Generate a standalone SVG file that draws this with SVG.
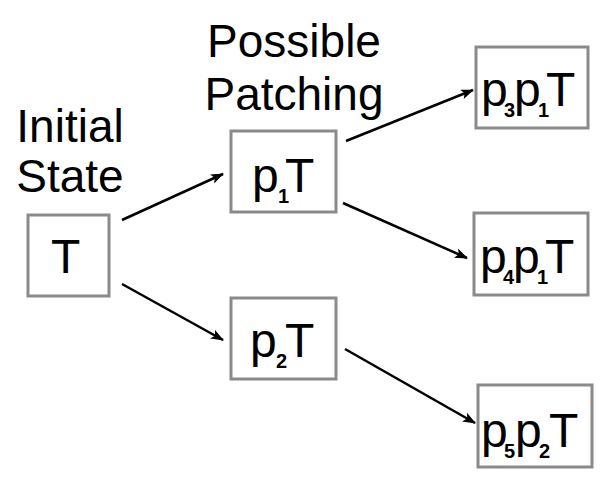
<svg xmlns="http://www.w3.org/2000/svg" width="607" height="488" viewBox="0 0 607 488">
<style>
.box{fill:#fff;stroke:#8a8a8a;stroke-width:3}
.lbl{font-family:"Liberation Sans",Arial,sans-serif;font-size:46px;fill:#000;text-anchor:middle}
.t{font-family:"Liberation Sans",Arial,sans-serif;font-size:48px;fill:#000}
.s{font-size:20px;font-weight:bold}
.edge{stroke:#000;stroke-width:2.5;fill:none;marker-end:url(#ah)}
</style>
<defs>
<marker id="ah" markerUnits="userSpaceOnUse" markerWidth="14" markerHeight="12" refX="12" refY="5" orient="auto">
<path d="M0,0 L13,5 L0,10 L3,5 z" fill="#000"/>
</marker>
</defs>
<g id="label-initial">
<text class="lbl" x="70" y="142">Initial</text>
<text class="lbl" x="70" y="192">State</text>
</g>
<g id="label-patching">
<text class="lbl" x="294" y="57">Possible</text>
<text class="lbl" x="294" y="110">Patching</text>
</g>
<g id="connectors">
<line class="edge" x1="122" y1="220" x2="223" y2="174"/>
<line class="edge" x1="122" y1="284" x2="223" y2="340"/>
<line class="edge" x1="346" y1="141" x2="473" y2="90"/>
<line class="edge" x1="343" y1="203" x2="467" y2="258"/>
<line class="edge" x1="345" y1="349" x2="475" y2="423"/>
</g>
<g id="node-T">
<rect class="box" x="28" y="215" width="81" height="81"/>
<text class="t" x="51" y="273">T</text>
</g>
<g id="node-p1T">
<rect class="box" x="231" y="131" width="105" height="81"/>
<text class="t" y="192"><tspan x="252">p</tspan><tspan class="s" x="278" y="203">1</tspan><tspan x="285" y="192">T</tspan></text>
</g>
<g id="node-p2T">
<rect class="box" x="231" y="298" width="105" height="81"/>
<text class="t" y="357"><tspan x="250">p</tspan><tspan class="s" x="276" y="368">2</tspan><tspan x="285" y="357">T</tspan></text>
</g>
<g id="node-p3p1T">
<rect class="box" x="476" y="47" width="112" height="81"/>
<text class="t" y="106"><tspan x="481">p</tspan><tspan class="s" x="504" y="117">3</tspan><tspan x="514" y="106">p</tspan><tspan class="s" x="538" y="117">1</tspan><tspan x="546" y="106">T</tspan></text>
</g>
<g id="node-p4p1T">
<rect class="box" x="474" y="213" width="114" height="82"/>
<text class="t" y="273"><tspan x="480">p</tspan><tspan class="s" x="503" y="284">4</tspan><tspan x="513" y="273">p</tspan><tspan class="s" x="537" y="284">1</tspan><tspan x="545" y="273">T</tspan></text>
</g>
<g id="node-p5p2T">
<rect class="box" x="478" y="385" width="114" height="82"/>
<text class="t" y="447"><tspan x="481">p</tspan><tspan class="s" x="504" y="458">5</tspan><tspan x="515" y="447">p</tspan><tspan class="s" x="539" y="458">2</tspan><tspan x="549" y="447">T</tspan></text>
</g>
</svg>
